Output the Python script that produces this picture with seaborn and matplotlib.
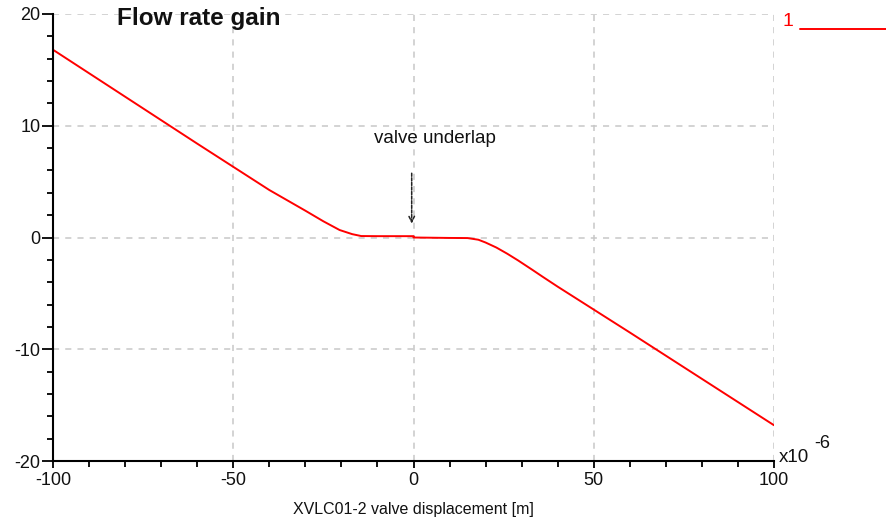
import matplotlib
matplotlib.use("Agg")
import matplotlib.pyplot as plt
import seaborn as sns
import pandas as pd
from matplotlib.ticker import MultipleLocator
from matplotlib.lines import Line2D

# Data (x in 1e-6 m)
x_vals = [-100, -80, -60, -40, -30, -25, -20.5, -17, -14.5, -10, -5, 0, 0, 5, 10, 15, 18, 20, 23, 26, 29, 33, 36, 40, 60, 80, 100]
y_vals = [16.8, 12.6, 8.4, 4.25, 2.4, 1.45, 0.67, 0.3, 0.13, 0.12, 0.12, 0.12, 0.0, -0.02, -0.04, -0.05, -0.2, -0.45, -0.9, -1.45, -2.05, -2.9, -3.55, -4.4, -8.5, -12.65, -16.8]
title = "Flow rate gain"
xlabel = "XVLC01-2 valve displacement [m]"
annot = "valve underlap"
x_ticks = [-100, -50, 0, 50, 100]
y_ticks = [-20, -10, 0, 10, 20]

df = pd.DataFrame({"x": x_vals, "y": y_vals})

sns.set_style("white")
plt.rcParams["font.family"] = ["Liberation Sans", "DejaVu Sans"]

fig = plt.figure(figsize=(8.86, 5.29), dpi=100)
ax = fig.add_axes([53/886, 1-461/529, (774-53)/886, (461-14)/529])

sns.lineplot(data=df, x="x", y="y", ax=ax, color="#ff0000", linewidth=1.4, sort=False, estimator=None)

ax.set_xlim(-100, 100)
ax.set_ylim(-20, 20)
ax.set_xticks(x_ticks)
ax.set_yticks(y_ticks)
ax.xaxis.set_minor_locator(MultipleLocator(10))
ax.yaxis.set_minor_locator(MultipleLocator(2))
ax.set_xticklabels([str(t) for t in x_ticks])
ax.set_yticklabels([str(t) for t in y_ticks])

for s in ["top", "right"]:
    ax.spines[s].set_visible(False)
for s in ["left", "bottom"]:
    ax.spines[s].set_color("black")
    ax.spines[s].set_linewidth(1.5)

ax.tick_params(axis="both", which="both", direction="out", color="black", width=1.3,
               labelsize=13, labelcolor="#111111")
ax.tick_params(axis="x", which="major", length=5, pad=3)
ax.tick_params(axis="x", which="minor", length=4)
ax.tick_params(axis="y", which="major", length=8, pad=1)
ax.tick_params(axis="y", which="minor", length=4)
ax.xaxis.set_ticks_position("bottom")
ax.yaxis.set_ticks_position("left")

ax.grid(True, which="major", linestyle=(0, (4, 4)), color="#c8c8c8", linewidth=1.1)
ax.set_axisbelow(True)

ax.set_xlabel(xlabel, fontsize=11.5, labelpad=9, color="#111111")
ax.set_ylabel("")

# annotation
ax.text(6, 8.9, annot, fontsize=13.5, ha="center", va="center", color="#111111")
ax.annotate("", xy=(-0.5, 1.0), xytext=(-0.5, 6.0),
            arrowprops=dict(arrowstyle="->", linestyle=(0, (2, 1)), color="#222222", lw=1.1))

# title
fig.text(117/886, 1-18/529, title, fontsize=17.5, fontweight="bold", ha="left", va="center", color="#111111")

# legend-like label
fig.text(782/886, 1-21/529, "1", fontsize=14, color="#ff0000", ha="left", va="center")
fig.add_artist(Line2D([800/886, 886/886], [1-29/529, 1-29/529], color="#ff0000", linewidth=1.4, transform=fig.transFigure))

# exponent
fig.text(779/886, 1-458/529, "x10", fontsize=13.5, ha="left", va="center", color="#111111")
fig.text(814/886, 1-444/529, "-6", fontsize=13, ha="left", va="center", color="#111111")

fig.savefig("out.png", dpi=100)
